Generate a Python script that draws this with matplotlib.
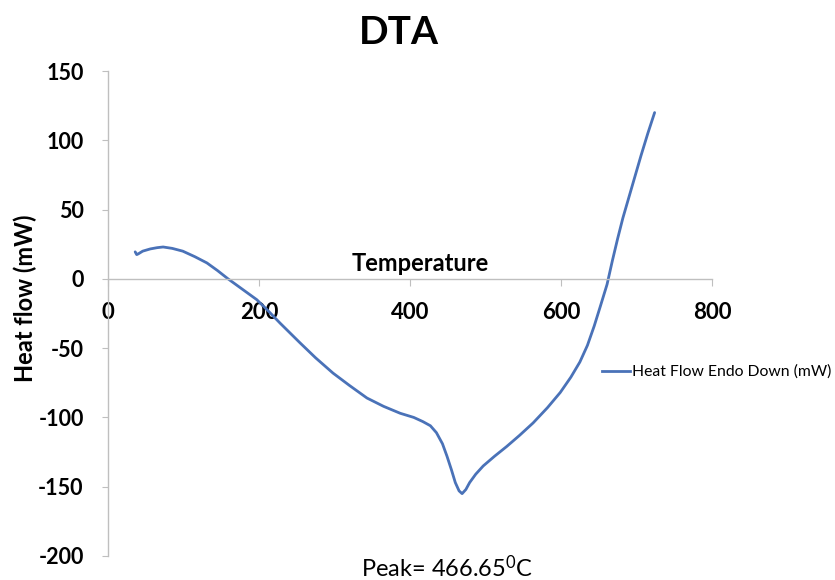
import matplotlib
matplotlib.use("Agg")
import matplotlib.pyplot as plt
from matplotlib.lines import Line2D

plt.rcParams['font.family'] = ['Lato', 'DejaVu Sans']
plt.rcParams['mathtext.fontset'] = 'custom'
plt.rcParams['mathtext.rm'] = 'Lato'
plt.rcParams['mathtext.it'] = 'Lato'
plt.rcParams['axes.unicode_minus'] = False

temperature = [36, 38, 40, 46, 56, 65, 73, 85, 99, 115, 131, 145, 159, 178, 197,
               212, 228, 254, 275, 298, 320, 343, 365, 387, 405, 417, 427, 435,
               443, 449, 455, 460, 465, 469, 474, 479, 487, 497, 512, 528, 545,
               563, 582, 599, 613, 625, 635, 644, 652, 661, 668, 675, 682, 690,
               698, 706, 715, 724]
heat_flow = [19.5, 17.5, 18, 20, 21.6, 22.5, 23, 22, 20, 16, 11.5, 6, 0, -7.5, -15,
             -23, -32, -46, -57, -68, -77, -86, -92, -97, -100, -103, -106, -111,
             -119, -128, -138, -147, -153, -155, -152, -147, -141, -135, -128, -121, -113,
             -104, -93, -82, -71, -60, -48, -34, -20, -4, 13, 29, 44, 59,
             74, 89, 105, 120]

x_ticks = [0, 200, 400, 600, 800]
y_ticks = [-200, -150, -100, -50, 0, 50, 100, 150]

series_label = "Heat Flow Endo Down (mW)"
line_color = "#4a72b8"
axis_color = "#bfbfbf"

fig = plt.figure(figsize=(8.35, 5.8), dpi=100)
ax = fig.add_axes([108/835, 1 - 556/580, 604/835, 485/580])

ax.plot(temperature, heat_flow, color=line_color, lw=2.0, solid_capstyle='round',
        solid_joinstyle='round', label=series_label)

ax.set_xlim(0, 800)
ax.set_ylim(-200, 150)
ax.set_xticks(x_ticks)
ax.set_yticks(y_ticks)

for s in ['top', 'right']:
    ax.spines[s].set_visible(False)
ax.spines['bottom'].set_position(('data', 0))
ax.spines['bottom'].set_color(axis_color)
ax.spines['left'].set_color(axis_color)
ax.spines['bottom'].set_linewidth(1.0)
ax.spines['left'].set_linewidth(1.0)

ax.tick_params(axis='x', direction='out', length=5, color=axis_color, pad=12,
               labelsize=16)
ax.tick_params(axis='y', direction='out', length=4.5, color=axis_color, pad=13,
               labelsize=15.5)
for lbl in ax.get_xticklabels() + ax.get_yticklabels():
    lbl.set_fontweight('bold')

ax.text(413, 11, "Temperature", ha='center', va='center', fontsize=17,
        fontweight='bold', transform=ax.transData)

fig.text(399/835, 1 - 32/580, "DTA", ha='center', va='center', fontsize=28,
         fontweight='bold')
fig.text(25/835, 1 - 298/580, "Heat flow (mW)", ha='center', va='center',
         rotation=90, fontsize=17, fontweight='bold')
fig.text(447/835, 1 - 568/580, r"Peak= 466.65$^{0}$C", ha='center', va='center',
         fontsize=17)

leg = fig.legend(handles=[Line2D([], [], color=line_color, lw=2.0)],
                 labels=[series_label], loc='center left',
                 bbox_to_anchor=(588/835, 1 - 372/580), frameon=False,
                 fontsize=11.3, handlelength=1.8, handletextpad=0.1)

fig.savefig("out.png", dpi=100)
